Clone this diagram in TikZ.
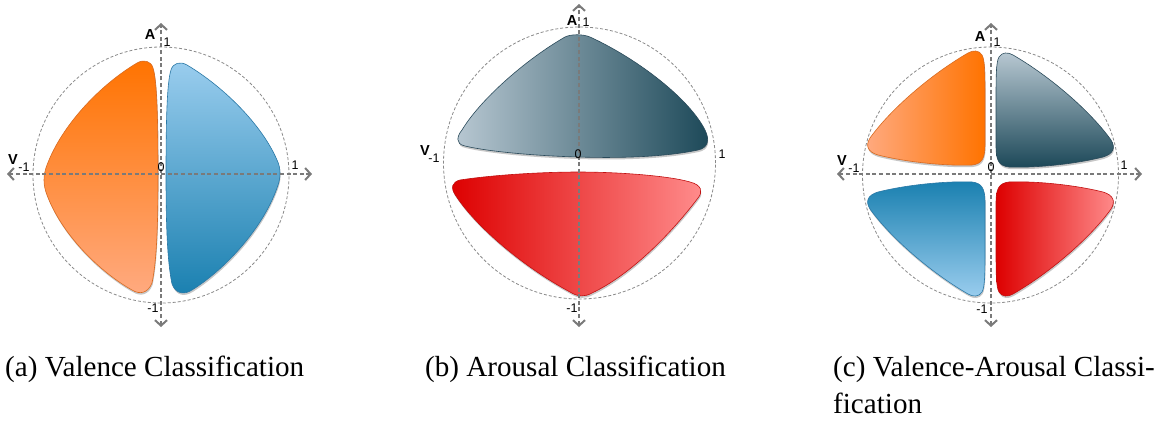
\documentclass[tikz,border=0pt]{standalone}
\usepackage{fontspec}
\setmainfont{Liberation Serif}
\newfontfamily\lsans{Liberation Sans}
\usetikzlibrary{arrows.meta,shadows}
\definecolor{axisgray}{HTML}{7A7A7A}
\definecolor{circgray}{HTML}{8A8A8A}
\definecolor{orA}{HTML}{FF7300}
\definecolor{orB}{HTML}{FFAA80}
\definecolor{orE}{HTML}{D86A20}
\definecolor{blA}{HTML}{9ACDEE}
\definecolor{blB}{HTML}{1A80B0}
\definecolor{blE}{HTML}{2A78A6}
\definecolor{dkA}{HTML}{B8C8D2}
\definecolor{dkB}{HTML}{1C4858}
\definecolor{dkE}{HTML}{2A4A5A}
\definecolor{rdA}{HTML}{DD0000}
\definecolor{rdB}{HTML}{FF8C8C}
\definecolor{rdE}{HTML}{C01010}
\tikzset{
  vaaxis/.style={draw=axisgray, line width=1.2pt, dash pattern=on 4pt off 2.6pt,
    {Straight Barb[length=5.5pt,width=12pt,line width=2pt]}-{Straight Barb[length=5.5pt,width=12pt,line width=2pt]}},
  ring/.style={draw=circgray, line width=0.8pt, dash pattern=on 3pt off 2pt},
  blob/.style={line width=0.6pt, drop shadow={shadow xshift=0.6pt, shadow yshift=-2pt, opacity=0.22, fill=black}},
  albl/.style={font=\lsans\bfseries\fontsize{14.5}{15}\selectfont, inner sep=0pt},
  nlbl/.style={font=\lsans\fontsize{12.5}{13}\selectfont, inner sep=0pt},
  captxt/.style={font=\fontsize{29.1}{37}\selectfont, inner sep=0pt, anchor=base west}
}
\begin{document}
\begin{tikzpicture}[x=1pt,y=-1pt]
\useasboundingbox (0,0) rectangle (1161,421);
% ================= panel (a)
\node[ring, circle, minimum size=256pt, inner sep=0pt] (ca) at (161,175) {};
\path[blob, draw=orE, top color=orA, bottom color=orB]
  (158,175) .. controls (158,120) and (157,80) .. (153,68)
  .. controls (151,61) and (144,59) .. (137,63)
  .. controls (100,85) and (62,125) .. (47,165)
  .. controls (43,175) and (43,185) .. (47,195)
  .. controls (62,235) and (100,272) .. (132,290)
  .. controls (140,295) and (148,293) .. (152,283)
  .. controls (157,260) and (158,220) .. (158,175) -- cycle;
\path[blob, draw=blE, top color=blA, bottom color=blB]
  (166,175) .. controls (166,120) and (167,82) .. (171,70)
  .. controls (173,63) and (180,61) .. (187,65)
  .. controls (224,87) and (262,125) .. (277,160)
  .. controls (281,168) and (281,178) .. (277,188)
  .. controls (262,230) and (224,270) .. (192,290)
  .. controls (184,295) and (176,294) .. (172,284)
  .. controls (167,260) and (166,220) .. (166,175) -- cycle;
\coordinate (aN) at (161,23);
\coordinate (aS) at (161,327);
\coordinate (aW) at (7,174);
\coordinate (aE) at (312,174);
\draw[vaaxis] (aS) -- (aN);
\draw[vaaxis] (aW) -- (aE);
\node[albl] (aA) at (150,35) {A};
\node[nlbl] (a1t) at (167,42) {1};
\node[albl] (aV) at (13,160) {V};
\node[nlbl] (am1l) at (24,167) {-1};
\node[nlbl] (a0) at (161,167) {0};
\node[nlbl] (a1r) at (295,165) {1};
\node[nlbl] (am1b) at (153,308) {-1};
% ================= panel (b)
\node[ring, circle, minimum size=272pt, inner sep=0pt] (cb) at (579.5,163) {};
\path[blob, draw=dkE, left color=dkA, right color=dkB]
  (565,37) .. controls (571,34) and (583,34) .. (590,37)
  .. controls (640,60) and (690,100) .. (705,130)
  .. controls (710,140) and (708,148) .. (698,150)
  .. controls (660,158) and (610,158) .. (578,157)
  .. controls (540,156) and (490,152) .. (465,146)
  .. controls (455,144) and (457,136) .. (462,130)
  .. controls (480,100) and (525,60) .. (565,37) -- cycle;
\path[blob, draw=rdE, left color=rdA, right color=rdB]
  (460,180) .. controls (500,174) and (550,172) .. (578,172)
  .. controls (620,172) and (670,176) .. (690,182)
  .. controls (702,185) and (703,192) .. (698,198)
  .. controls (670,235) and (630,275) .. (592,293)
  .. controls (585,297) and (578,297) .. (570,292)
  .. controls (520,265) and (475,225) .. (456,196)
  .. controls (450,188) and (452,182) .. (460,180) -- cycle;
\coordinate (bN) at (579,4);
\coordinate (bS) at (579,327);
\draw[vaaxis] (bS) -- (bN);
\node[albl] (bA) at (572,21) {A};
\node[nlbl] (b1t) at (586,22) {1};
\node[albl] (bV) at (425,151) {V};
\node[nlbl] (bm1l) at (434,158) {-1};
\node[nlbl] (b0) at (578,154) {0};
\node[nlbl] (b1r) at (722,154) {1};
\node[nlbl] (bm1b) at (572,308) {-1};
% ================= panel (c)
\node[ring, circle, minimum size=256pt, inner sep=0pt] (cc) at (990.5,175) {};
\path[blob, draw=orE, left color=orB, right color=orA]
  (985,100) .. controls (985,75) and (985,60) .. (982,55)
  .. controls (979,50) and (973,50) .. (968,53)
  .. controls (930,75) and (890,110) .. (870,138)
  .. controls (865,146) and (868,152) .. (878,155)
  .. controls (910,163) and (950,166) .. (972,165)
  .. controls (982,164) and (985,158) .. (985,145) -- cycle;
\path[blob, draw=dkE, top color=dkA, bottom color=dkB]
  (996,102) .. controls (996,77) and (996,62) .. (999,57)
  .. controls (1002,52) and (1008,52) .. (1013,55)
  .. controls (1051,77) and (1091,112) .. (1111,140)
  .. controls (1116,148) and (1113,154) .. (1103,157)
  .. controls (1071,165) and (1031,168) .. (1009,167)
  .. controls (999,166) and (996,160) .. (996,147) -- cycle;
\path[blob, draw=blE, top color=blB, bottom color=blA]
  (985,247) .. controls (985,272) and (985,287) .. (982,292)
  .. controls (979,297) and (973,297) .. (968,294)
  .. controls (930,272) and (890,237) .. (870,209)
  .. controls (865,201) and (868,195) .. (878,192)
  .. controls (910,184) and (950,181) .. (972,182)
  .. controls (982,183) and (985,189) .. (985,202) -- cycle;
\path[blob, draw=rdE, left color=rdA, right color=rdB]
  (996,247) .. controls (996,272) and (996,287) .. (999,292)
  .. controls (1002,297) and (1008,297) .. (1013,294)
  .. controls (1051,272) and (1091,237) .. (1111,209)
  .. controls (1116,201) and (1113,195) .. (1103,192)
  .. controls (1071,184) and (1031,181) .. (1009,182)
  .. controls (999,183) and (996,189) .. (996,202) -- cycle;
\coordinate (cN) at (991,23);
\coordinate (cS) at (991,327);
\coordinate (cW) at (837,174);
\coordinate (cE) at (1142,174);
\draw[vaaxis] (cS) -- (cN);
\draw[vaaxis] (cW) -- (cE);
\node[albl] (cA) at (980,37) {A};
\node[nlbl] (c1t) at (997,42) {1};
\node[albl] (cV) at (842,161) {V};
\node[nlbl] (cm1l) at (854,168) {-1};
\node[nlbl] (c0) at (991,167) {0};
\node[nlbl] (c1r) at (1124,165) {1};
\node[nlbl] (cm1b) at (982,309) {-1};
% ================= captions
\node[captxt] (capa) at (5,376) {(a) Valence Classification};
\node[captxt] (capb) at (425,376) {(b) Arousal Classification};
\node[captxt] (capc1) at (833,376) {(c) Valence-Arousal Classi-};
\node[captxt] (capc2) at (833,413) {fication};
\end{tikzpicture}
\end{document}
